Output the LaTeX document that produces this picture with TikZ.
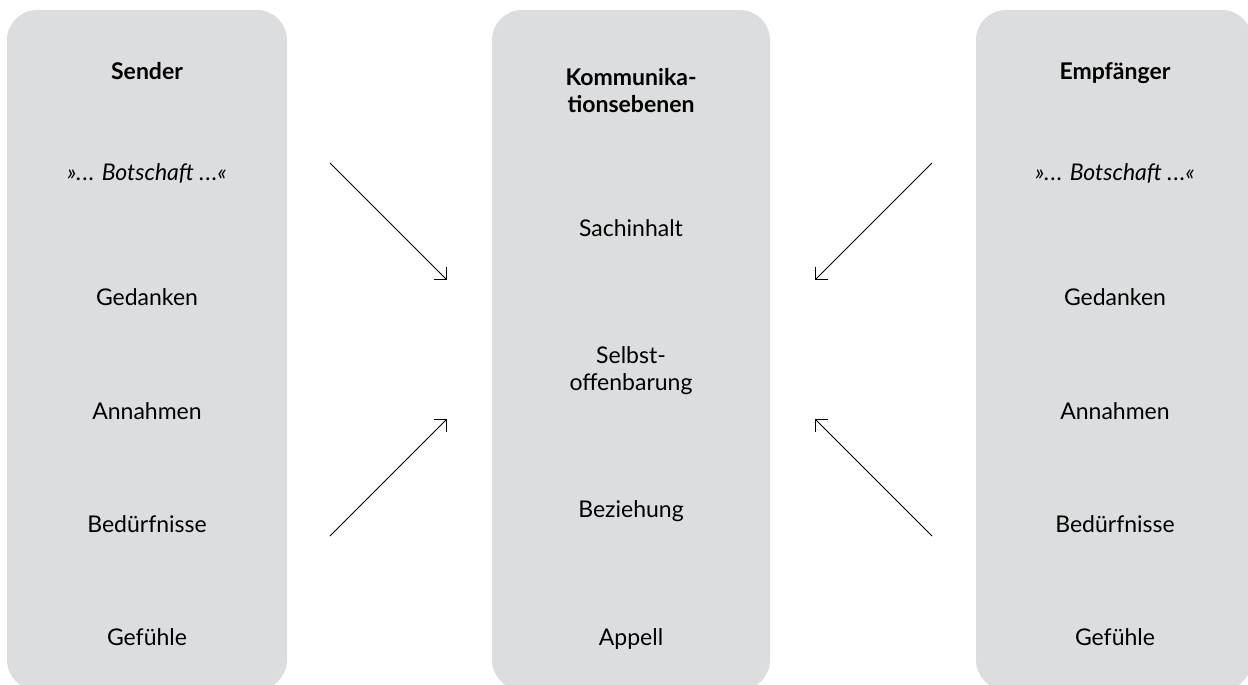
\documentclass[tikz,border=0pt]{standalone}
\usepackage{fontspec}
\setmainfont{Lato}
\usetikzlibrary{arrows.meta}
\definecolor{boxgray}{RGB}{220,221,223}
\begin{document}
\begin{tikzpicture}[x=1pt,y=-1pt,
  panel/.style={fill=boxgray, rounded corners=30pt},
  lbl/.style={font=\fontsize{23}{27}\selectfont, anchor=base, align=center, inner sep=0pt},
  head/.style={lbl, font=\fontsize{23}{27}\selectfont\bfseries},
  msg/.style={lbl, font=\fontsize{23}{27}\selectfont\itshape},
  arr/.style={-{Straight Barb[length=8.5pt,width=17pt]}, line width=1pt}]
\useasboundingbox (0,0) rectangle (1248,685);
\begin{scope}
\clip (0,0) rectangle (1248,685);
\fill[panel] (7,10) rectangle (287,690);
\fill[panel] (492,10) rectangle (770,690);
\fill[panel] (976,10) rectangle (1252,690);
\end{scope}
% left column
\node[head] (sender) at (147,80) {Sender};
\node[msg] (lbot) at (147,180) {».\kern1pt.\kern1pt. Botschaft .\kern1pt.\kern1pt.«};
\node[lbl] (lged) at (147,305) {Gedanken};
\node[lbl] (lann) at (147,419) {Annahmen};
\node[lbl] (lbed) at (147,532) {Bedürfnisse};
\node[lbl] (lgef) at (147,645) {Gefühle};
% center column (base anchor = baseline of last line)
\node[head] (komm) at (631,112) {Kommunika-\\tionsebenen};
\node[lbl] (sach) at (631,236) {Sachinhalt};
\node[lbl] (selbst) at (631,390) {Selbst-\\offenbarung};
\node[lbl] (bez) at (631,517) {Beziehung};
\node[lbl] (app) at (631,645) {Appell};
% right column
\node[head] (empf) at (1115,80) {Empfänger};
\node[msg] (rbot) at (1115,180) {».\kern1pt.\kern1pt. Botschaft .\kern1pt.\kern1pt.«};
\node[lbl] (rged) at (1115,305) {Gedanken};
\node[lbl] (rann) at (1115,419) {Annahmen};
\node[lbl] (rbed) at (1115,532) {Bedürfnisse};
\node[lbl] (rgef) at (1115,645) {Gefühle};
% arrows
\coordinate (a1s) at (330,163); \coordinate (a1e) at (447,280);
\coordinate (a2s) at (330,536); \coordinate (a2e) at (447,419);
\coordinate (a3s) at (932,163); \coordinate (a3e) at (815,280);
\coordinate (a4s) at (932,536); \coordinate (a4e) at (815,419);
\draw[arr] (a1s) -- (a1e);
\draw[arr] (a2s) -- (a2e);
\draw[arr] (a3s) -- (a3e);
\draw[arr] (a4s) -- (a4e);
\end{tikzpicture}
\end{document}
